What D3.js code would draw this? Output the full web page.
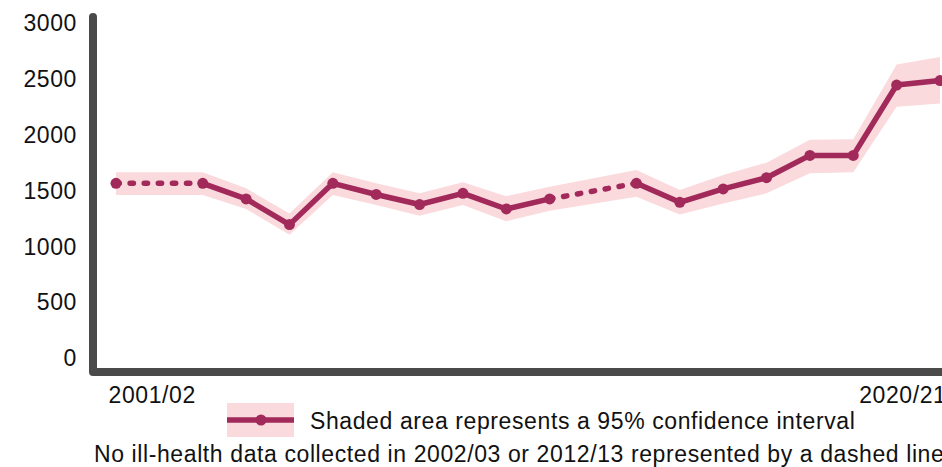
<!DOCTYPE html>
<html>
<head>
<meta charset="utf-8">
<script src="https://cdn.jsdelivr.net/npm/d3@7"></script>
<style>
  html, body { margin: 0; padding: 0; background: #fff; overflow: hidden; }
  svg { display: block; }
  text { font-family: "Liberation Sans", Arial, Helvetica, sans-serif; fill: #111; }
</style>
</head>
<body>
<svg id="chart" width="942" height="467"></svg>
<script>
const years = ["2001/02","2002/03","2003/04","2004/05","2005/06","2006/07","2007/08","2008/09","2009/10","2010/11",
               "2011/12","2012/13","2013/14","2014/15","2015/16","2016/17","2017/18","2018/19","2019/20","2020/21"];
const values = [1560, null, 1560, 1420, 1190, 1560, 1460, 1370, 1470, 1330,
                1420, null, 1560, 1390, 1510, 1610, 1810, 1810, 2440, 2480];
const lower  = [1455, null, 1455, 1330, 1100, 1455, 1365, 1270, 1365, 1220,
                1315, null, 1440, 1280, 1380, 1470, 1650, 1660, 2245, 2275];
const upper  = [1660, null, 1660, 1515, 1290, 1660, 1560, 1470, 1570, 1445,
                1530, null, 1680, 1500, 1635, 1745, 1950, 1955, 2625, 2690];
const yTicks = [0, 500, 1000, 1500, 2000, 2500, 3000];
const xTickLabels = ["2001/02", "2020/21"];
const legendText = "Shaded area represents a 95% confidence interval";
const noteText = "No ill-health data collected in 2002/03 or 2012/13 represented by a dashed line";

const lineColor = "#a12a5b";
const bandColor = "#fadadd";
const axisColor = "#4a4a4a";

const svg = d3.select("#chart");
const x = d3.scalePoint().domain(years).range([116, 940]);
const y = d3.scaleLinear().domain([0, 3000]).range([357.5, 22.5]);

const pts = years.map((yr, i) => ({yr, i, v: values[i], lo: lower[i], hi: upper[i]}))
                 .filter(d => d.v !== null);

// confidence band
const area = d3.area().x(d => x(d.yr)).y0(d => y(d.lo)).y1(d => y(d.hi));
svg.append("path").datum(pts).attr("d", area).attr("fill", bandColor);

// line segments: solid for consecutive years, dashed across gaps
const line = d3.line().x(d => x(d.yr)).y(d => y(d.v));
let run = [pts[0]];
const solidRuns = [], dashedPairs = [];
for (let k = 1; k < pts.length; k++) {
  const a = pts[k-1], b = pts[k];
  if (b.i - a.i === 1) { run.push(b); }
  else {
    if (run.length > 1) solidRuns.push(run);
    dashedPairs.push([a, b]);
    run = [b];
  }
}
if (run.length > 1) solidRuns.push(run);

solidRuns.forEach(r => svg.append("path").datum(r).attr("d", line)
  .attr("fill", "none").attr("stroke", lineColor).attr("stroke-width", 5.5)
  .attr("stroke-linejoin", "round").attr("stroke-linecap", "round"));
dashedPairs.forEach(r => svg.append("path").datum(r).attr("d", line)
  .attr("fill", "none").attr("stroke", lineColor).attr("stroke-width", 5.5)
  .attr("stroke-dasharray", "3.3,10.8").attr("stroke-linecap", "round"));

svg.append("g").selectAll("circle").data(pts).join("circle")
  .attr("cx", d => x(d.yr)).attr("cy", d => y(d.v)).attr("r", 5.5).attr("fill", lineColor);

// axes
const yAxis = svg.append("g").attr("transform", "translate(93,0)")
  .call(d3.axisLeft(y).tickValues(yTicks).tickSize(0).tickPadding(16).tickFormat(d3.format("d")));
yAxis.select(".domain").remove();
yAxis.selectAll("text").attr("font-size", 23).attr("font-family", null).attr("dy", "0.36em")
  .style("letter-spacing", "0.6px");

const xAxis = svg.append("g").attr("transform", "translate(0,372)")
  .call(d3.axisBottom(x).tickValues(xTickLabels).tickSize(0));
xAxis.select(".domain").remove();
xAxis.selectAll("text").attr("font-size", 23).attr("font-family", null)
  .attr("y", 31).attr("dy", 0).style("letter-spacing", "0.6px")
  .attr("text-anchor", (d, i) => i === 0 ? "start" : "end")
  .attr("dx", (d, i) => i === 0 ? -8 : 6);

svg.append("path")
  .attr("d", `M93,17 L93,372 L960,372`)
  .attr("fill", "none").attr("stroke", axisColor).attr("stroke-width", 8)
  .attr("stroke-linecap", "round").attr("stroke-linejoin", "round");

// legend
const lg = svg.append("g");
lg.append("rect").attr("x", 227).attr("y", 403).attr("width", 67).attr("height", 34).attr("fill", bandColor);
lg.append("line").attr("x1", 227).attr("x2", 294).attr("y1", 420).attr("y2", 420)
  .attr("stroke", lineColor).attr("stroke-width", 5.5);
lg.append("circle").attr("cx", 261).attr("cy", 420).attr("r", 5.5).attr("fill", lineColor);
lg.append("text").attr("x", 310).attr("y", 429).attr("font-size", 23)
  .style("letter-spacing", "0.6px").text(legendText);

svg.append("text").attr("x", 94).attr("y", 461.5).attr("font-size", 23)
  .style("letter-spacing", "0.6px").text(noteText);
</script>
</body>
</html>
